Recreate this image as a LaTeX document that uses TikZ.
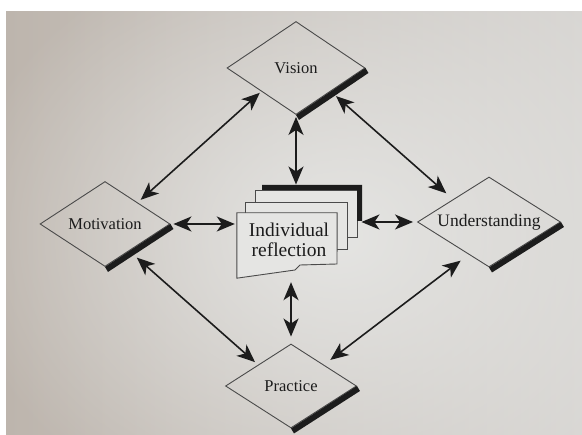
\documentclass[tikz,border=0pt]{standalone}
\usepackage{fontspec}
\setmainfont{Liberation Serif}
\usetikzlibrary{shapes.geometric,arrows.meta,fadings}

\definecolor{ink}{HTML}{1C1C1C}
\definecolor{edge}{HTML}{4A4A4A}
\definecolor{paper}{HTML}{E5E5E3}
\definecolor{duskl}{HTML}{BDB5AD}
\definecolor{duskr}{HTML}{D8D6D3}

\tikzfading[name=softspot, inner color=transparent!0, outer color=transparent!100]

\tikzset{
  facet/.style={diamond, shape aspect=1.6, draw=edge, line width=0.9pt, inner sep=0pt,
    text=ink, font=\fontsize{16.5}{18}\selectfont},
  facetshadow/.style={fill=ink},
  sheet/.style={fill=paper, draw=edge, line width=0.9pt, inner sep=0pt},
  link/.style={draw=ink, line width=1.6pt,
    {Stealth[length=18pt,width=15pt,inset=5pt]}-{Stealth[length=18pt,width=15pt,inset=5pt]}},
}

\begin{document}
\begin{tikzpicture}[x=1pt,y=-1pt]
\useasboundingbox (0,0) rectangle (582,435);

% sheet of paper behind the figure
\fill[white] (0,0) rectangle (582,435);
\begin{scope}
  \clip (6,12) rectangle (582,435);
  \shade[left color=duskl, right color=duskr] (6,12) rectangle (582,435);
  \fill[paper, path fading=softspot] (335,235) ellipse (380 and 310);
\end{scope}

% the four facets
\node[facet, minimum width=138pt, minimum height=93pt] (vis) at (296,68) {Vision};
\node[facet, minimum width=130pt, minimum height=85pt] (mot) at (105,224) {Motivation};
\node[facet, minimum width=143pt, minimum height=90pt,
      font=\fontsize{17.5}{19}\selectfont] (und) at (489,222) {Understanding};
\node[facet, minimum width=131pt, minimum height=84pt] (pra) at (291,386) {Practice};

% drop shadows along the lower right edges
\foreach \d in {vis,mot,und,pra}{
  \fill[facetshadow] (\d.east) -- (\d.south) -- ([shift={(3,5)}]\d.south)
    -- ([shift={(3,5)}]\d.east) -- cycle;
}

% stack of reflection sheets
\node[sheet, minimum width=102pt, minimum height=47pt] (back) at (306,213.5) {};
\fill[ink] (262,185) -- (362,185) -- (362,221) -- (357,221) -- (357,190) -- (262,190) -- cycle;
\node[sheet, minimum width=102pt, minimum height=47pt] (mid) at (296,225.5) {};
\node[inner sep=0pt, minimum width=100pt, minimum height=65pt] (front) at (287,245.5) {};
\filldraw[sheet] (front.north west) -- (front.north east) -- (337,264) -- (300,265)
  .. controls (297,266) and (298,269) .. (295,270) -- (front.south west) -- cycle;
\node[text=ink, align=center, font=\fontsize{19.5}{20.5}\selectfont] (lbl) at (289,240)
  {Individual\\reflection};

% connectors
\draw[link, shorten <=2pt, shorten >=4pt] (vis.south west) -- (mot.north east);
\draw[link, shorten <=7pt, shorten >=9pt] (vis.south east) -- (und.north west);
\draw[link, shorten <=2pt, shorten >=5pt] (vis.south) -- (vis.south |- back.north);
\draw[link, shorten <=3pt, shorten >=2pt] (mot.east) -- (mot.east -| front.west);
\draw[link, shorten <=4pt, shorten >=4pt] (back.east |- und.west) -- (und.west);
\draw[link, shorten <=7pt, shorten >=4pt] (pra.north) -- (pra.north |- front.south);
\draw[link, shorten <=10pt, shorten >=4pt] (mot.-48) -- (pra.north west);
\draw[link, shorten <=10pt, shorten >=8pt] (und.-122) -- (pra.north east);
\end{tikzpicture}
\end{document}
